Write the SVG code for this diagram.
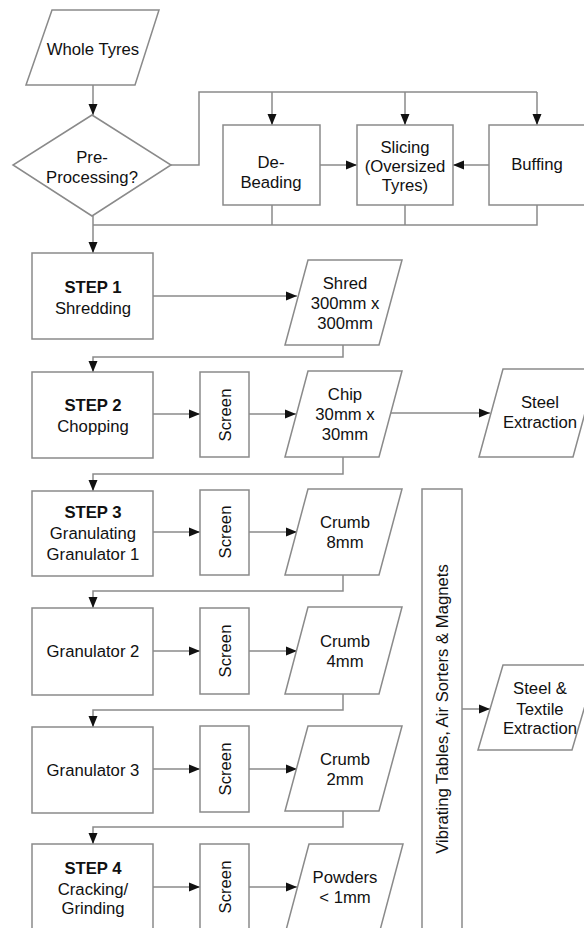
<svg xmlns="http://www.w3.org/2000/svg" width="584" height="928" viewBox="0 0 584 928">
<style>
.s{fill:#fff;stroke:#8a8a8a;stroke-width:1.5}
.c{fill:none;stroke:#8a8a8a;stroke-width:1.5}
.a{marker-end:url(#ah)}
text{font-family:"Liberation Sans",Arial,sans-serif;font-size:16.7px;fill:#111;text-anchor:middle}
.b{font-weight:bold}
</style>
<defs>
<marker id="ah" markerUnits="userSpaceOnUse" markerWidth="11" markerHeight="10" refX="11" refY="5" orient="auto">
<path d="M0,0.5 L11,5 L0,9.5 z" fill="#111"/>
</marker>
</defs>
<rect width="584" height="928" fill="#fff"/>
<g id="connectors">
<path class="c a" d="M93,85 V115"/>
<path class="c" d="M171,165 H199 V92 H537"/>
<path class="c a" d="M272,92 V125"/>
<path class="c a" d="M405,92 V125"/>
<path class="c a" d="M537,92 V125"/>
<path class="c a" d="M320,165 H357"/>
<path class="c a" d="M489,165 H453"/>
<path class="c" d="M272,205 V225 M405,205 V225 M537,205 V225 H93"/>
<path class="c a" d="M93,216 V253"/>
<path class="c a" d="M153,296 H297"/>
<path class="c a" d="M343,345 V357 H93 V372"/>
<path class="c a" d="M153,414 H200"/>
<path class="c a" d="M249,414 H296"/>
<path class="c a" d="M391,413 H490"/>
<path class="c a" d="M343,457 V474 H93 V491"/>
<path class="c a" d="M153,532 H200"/>
<path class="c a" d="M249,532 H297"/>
<path class="c a" d="M343,575 V591 H93 V608"/>
<path class="c a" d="M153,651 H200"/>
<path class="c a" d="M249,651 H297"/>
<path class="c a" d="M343,694 V710 H93 V727"/>
<path class="c a" d="M153,769 H200"/>
<path class="c a" d="M249,769 H297"/>
<path class="c a" d="M343,811 V827 H93 V844"/>
<path class="c a" d="M153,887 H200"/>
<path class="c a" d="M249,887 H297"/>
<path class="c a" d="M462,709 H490"/>
</g>
<g id="whole-tyres"><polygon class="s" points="52,10 159,10 135,85 26,85"/><text x="93" y="55">Whole Tyres</text></g>
<g id="pre-processing"><polygon class="s" points="92,115 171,165 92,216 13,165"/><text x="92" y="163">Pre-</text><text x="92" y="183">Processing?</text></g>
<g id="de-beading"><rect class="s" x="223" y="125" width="97" height="80"/><text x="271" y="168">De-</text><text x="271" y="188">Beading</text></g>
<g id="slicing"><rect class="s" x="357" y="125" width="96" height="80"/><text x="405" y="153">Slicing</text><text x="405" y="172">(Oversized</text><text x="405" y="191">Tyres)</text></g>
<g id="buffing"><rect class="s" x="489" y="125" width="97" height="80"/><text x="537" y="170">Buffing</text></g>
<g id="step1"><rect class="s" x="32" y="253" width="121" height="86"/><text class="b" x="93" y="293">STEP 1</text><text x="93" y="314">Shredding</text></g>
<g id="shred"><polygon class="s" points="308,260 402,260 379,345 285,345"/><text x="345" y="289">Shred</text><text x="345" y="309">300mm x</text><text x="345" y="329">300mm</text></g>
<g id="step2"><rect class="s" x="32" y="372" width="121" height="86"/><text class="b" x="93" y="411">STEP 2</text><text x="93" y="432">Chopping</text></g>
<g id="screen1"><rect class="s" x="200" y="372" width="49" height="85"/><text transform="translate(225,415) rotate(-90)" y="5.5">Screen</text></g>
<g id="chip"><polygon class="s" points="308,371 402,371 379,457 285,457"/><text x="345" y="400">Chip</text><text x="345" y="420">30mm x</text><text x="345" y="440">30mm</text></g>
<g id="steel-extraction"><polygon class="s" points="503,369 597,369 573,457 479,457"/><text x="540" y="408">Steel</text><text x="540" y="428">Extraction</text></g>
<g id="step3"><rect class="s" x="32" y="491" width="121" height="85"/><text class="b" x="93" y="518">STEP 3</text><text x="93" y="539">Granulating</text><text x="93" y="560">Granulator 1</text></g>
<g id="screen2"><rect class="s" x="200" y="490" width="49" height="85"/><text transform="translate(225,532) rotate(-90)" y="5.5">Screen</text></g>
<g id="crumb8"><polygon class="s" points="308,489 402,489 379,575 285,575"/><text x="345" y="528">Crumb</text><text x="345" y="548">8mm</text></g>
<g id="granulator2"><rect class="s" x="32" y="608" width="121" height="87"/><text x="93" y="657">Granulator 2</text></g>
<g id="screen3"><rect class="s" x="200" y="608" width="49" height="86"/><text transform="translate(225,651) rotate(-90)" y="5.5">Screen</text></g>
<g id="crumb4"><polygon class="s" points="308,607 402,607 379,694 285,694"/><text x="345" y="647">Crumb</text><text x="345" y="667">4mm</text></g>
<g id="granulator3"><rect class="s" x="32" y="727" width="121" height="86"/><text x="93" y="776">Granulator 3</text></g>
<g id="screen4"><rect class="s" x="200" y="726" width="49" height="86"/><text transform="translate(225,769) rotate(-90)" y="5.5">Screen</text></g>
<g id="crumb2"><polygon class="s" points="308,726 402,726 379,811 285,811"/><text x="345" y="765">Crumb</text><text x="345" y="785">2mm</text></g>
<g id="step4"><rect class="s" x="32" y="844" width="121" height="100"/><text class="b" x="93" y="874">STEP 4</text><text x="93" y="895">Cracking/</text><text x="93" y="914">Grinding</text></g>
<g id="screen5"><rect class="s" x="200" y="844" width="49" height="100"/><text transform="translate(225,887) rotate(-90)" y="5.5">Screen</text></g>
<g id="powders"><polygon class="s" points="309,844 403,844 379,934 285,934"/><text x="345" y="883">Powders</text><text x="345" y="903">&lt; 1mm</text></g>
<g id="vibrating"><rect class="s" x="422" y="489" width="40" height="450"/><text transform="translate(442,709) rotate(-90)" y="5.5">Vibrating Tables, Air Sorters &amp; Magnets</text></g>
<g id="steel-textile"><polygon class="s" points="503,665 597,665 572,750 478,750"/><text x="540" y="694">Steel &amp;</text><text x="540" y="715">Textile</text><text x="540" y="734">Extraction</text></g>
</svg>
